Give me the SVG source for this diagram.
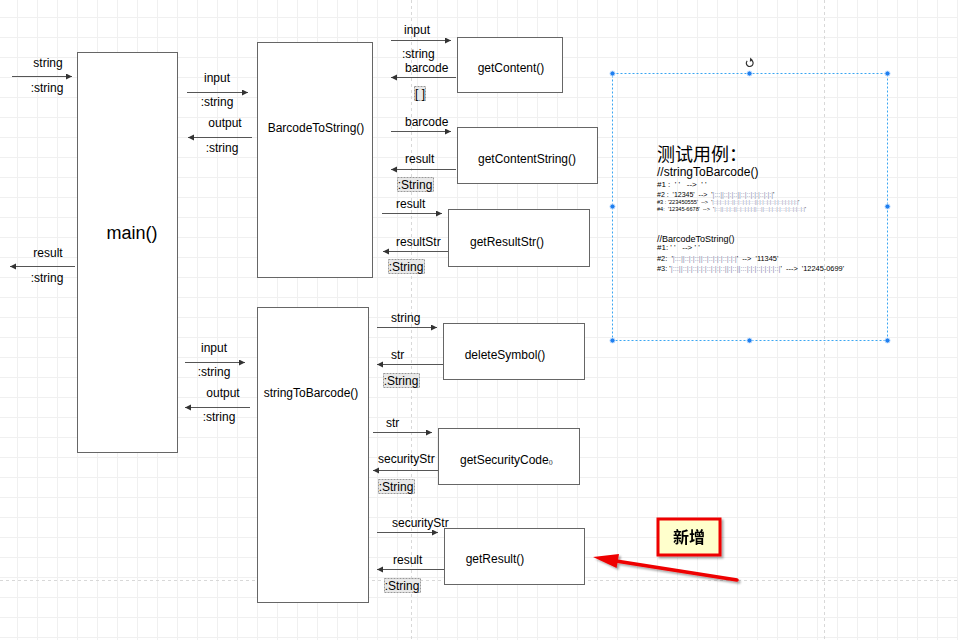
<svg xmlns="http://www.w3.org/2000/svg" width="958" height="640" viewBox="0 0 958 640">
<defs>
<pattern id="grid" patternUnits="userSpaceOnUse" x="17" y="17" width="20" height="20">
<rect width="20" height="20" fill="#ffffff"/>
<path d="M0 0.5H20M0.5 0V20" stroke="#f0f0f0" stroke-width="1" fill="none"/>
</pattern>
<marker id="ah" markerUnits="userSpaceOnUse" markerWidth="8" markerHeight="8" refX="6" refY="3" orient="auto">
<path d="M0 0L6 3L0 6Z" fill="#333"/>
</marker>
<filter id="sh" x="-20%" y="-20%" width="150%" height="160%">
<feGaussianBlur in="SourceAlpha" stdDeviation="1.2"/>
<feOffset dx="2" dy="2" result="b"/>
<feComponentTransfer><feFuncA type="linear" slope="0.35"/></feComponentTransfer>
<feMerge><feMergeNode/><feMergeNode in="SourceGraphic"/></feMerge>
</filter>
</defs>
<style>
text{font-family:"Liberation Sans",Arial,"Noto Sans CJK SC",sans-serif;fill:#000}
.lbl{font-size:12px}
.box{fill:#fff;stroke:#666;stroke-width:1}
.con{stroke:#555;stroke-width:1;fill:none;marker-end:url(#ah)}
.tag{fill:#e9e9e9;stroke:#999;stroke-width:1;stroke-dasharray:2 1}
.pb{stroke:#d8d8d8;stroke-width:1;stroke-dasharray:3 3;fill:none}
.sel{fill:none;stroke:#3aa6f2;stroke-width:1;stroke-dasharray:2 2}
.hd{fill:#1f7ff0;stroke:#cfe6ff;stroke-width:1}
.bc{fill:#8b8fb0}
</style>
<rect width="958" height="640" fill="url(#grid)"/>
<path class="pb" d="M411.5 0V640M824.5 0V640M0 580.5H958"/>

<g id="main">
<rect class="box" x="77.5" y="52.5" width="100" height="400"/>
<text x="132" y="239" font-size="18" text-anchor="middle">main()</text>
</g>
<g id="BarcodeToString">
<rect class="box" x="257.5" y="42.5" width="115" height="235"/>
<text class="lbl" x="316" y="132" text-anchor="middle">BarcodeToString()</text>
</g>
<g id="stringToBarcode">
<rect class="box" x="257.5" y="307.5" width="111" height="295"/>
<text class="lbl" x="311" y="397" text-anchor="middle">stringToBarcode()</text>
</g>
<g id="getContent">
<rect class="box" x="457.5" y="37.5" width="105" height="55"/>
<text class="lbl" x="511" y="72" text-anchor="middle">getContent()</text>
</g>
<g id="getContentString">
<rect class="box" x="457.5" y="127.5" width="140" height="56"/>
<text class="lbl" x="527" y="163" text-anchor="middle">getContentString()</text>
</g>
<g id="getResultStr">
<rect class="box" x="448.5" y="209.5" width="141" height="57"/>
<text class="lbl" x="507" y="246" text-anchor="middle">getResultStr()</text>
</g>
<g id="deleteSymbol">
<rect class="box" x="443.5" y="323.5" width="141" height="56"/>
<text class="lbl" x="505" y="359" text-anchor="middle">deleteSymbol()</text>
</g>
<g id="getSecurityCode">
<rect class="box" x="438.5" y="428.5" width="141" height="56"/>
<text class="lbl" x="460" y="464">getSecurityCode<tspan font-size="6">()</tspan></text>
</g>
<g id="getResult">
<rect class="box" x="444.5" y="528.5" width="140" height="56"/>
<text class="lbl" x="495" y="563" text-anchor="middle">getResult()</text>
</g>

<g id="connectors">
<path class="con" d="M12 76.5H72"/>
<path class="con" d="M75 266.5H10"/>
<path class="con" d="M187 92.5H248"/>
<path class="con" d="M252 137.5H188"/>
<path class="con" d="M185 362.5H245"/>
<path class="con" d="M250 407.5H185"/>
<path class="con" d="M391 40.5H451"/>
<path class="con" d="M456 77.5H391"/>
<path class="con" d="M391 131.5H451"/>
<path class="con" d="M456 169.5H391"/>
<path class="con" d="M382 213.5H442"/>
<path class="con" d="M448 251.5H383"/>
<path class="con" d="M377 327.5H437"/>
<path class="con" d="M443 364.5H377"/>
<path class="con" d="M373 432.5H432"/>
<path class="con" d="M438 470.5H373"/>
<path class="con" d="M377 532.5H438"/>
<path class="con" d="M444 569.5H377"/>
</g>

<g id="labels" class="lbl">
<text x="48" y="67" text-anchor="middle">string</text>
<text x="47" y="92" text-anchor="middle">:string</text>
<text x="48" y="257" text-anchor="middle">result</text>
<text x="47" y="282" text-anchor="middle">:string</text>
<text x="217" y="82" text-anchor="middle">input</text>
<text x="217" y="106" text-anchor="middle">:string</text>
<text x="225" y="127" text-anchor="middle">output</text>
<text x="222" y="152" text-anchor="middle">:string</text>
<text x="214" y="352" text-anchor="middle">input</text>
<text x="214" y="376" text-anchor="middle">:string</text>
<text x="223" y="397" text-anchor="middle">output</text>
<text x="219" y="421" text-anchor="middle">:string</text>
<text x="404" y="34">input</text>
<text x="402" y="58">:string</text>
<text x="405" y="72">barcode</text>
<rect class="tag" x="414.5" y="86.5" width="11" height="14"/>
<text x="420" y="98" text-anchor="middle">[ ]</text>
<text x="405" y="126">barcode</text>
<text x="405" y="163">result</text>
<rect class="tag" x="397.5" y="177.5" width="36" height="14"/>
<text x="415" y="189" text-anchor="middle">:String</text>
<text x="396" y="208">result</text>
<text x="396" y="246">resultStr</text>
<rect class="tag" x="388.5" y="259.5" width="36" height="14"/>
<text x="406" y="271" text-anchor="middle">:String</text>
<text x="391" y="322">string</text>
<text x="391" y="359">str</text>
<rect class="tag" x="383.5" y="373.5" width="36" height="14"/>
<text x="401" y="385" text-anchor="middle">:String</text>
<text x="386" y="427">str</text>
<text x="378" y="463">securityStr</text>
<rect class="tag" x="378.5" y="479.5" width="36" height="14"/>
<text x="396" y="491" text-anchor="middle">:String</text>
<text x="392" y="527">securityStr</text>
<text x="393" y="564">result</text>
<rect class="tag" x="384.5" y="578.5" width="36" height="14"/>
<text x="402" y="590" text-anchor="middle">:String</text>
</g>

<g id="testcases">
<text x="657" y="161" font-size="18">测试用例：</text>
<text x="657" y="176" font-size="12">//stringToBarcode()</text>
<text x="657" y="187" font-size="8" xml:space="preserve">#1 :  ' '   -->  ' '</text>
<text x="657" y="197" font-size="7" xml:space="preserve">#2 :  '12345'  -->  '<tspan class="bc">|:::||::|:|::||::|::|:|:|::|:|:|</tspan>'</text>
<text x="657" y="204" font-size="5.6" xml:space="preserve">#3 : '223450555'  -->  '<tspan class="bc">|::|:|::|:|::||::|::|:|:|:::||:|:|::|:|::|:|::|:|:|:|:|:|</tspan>'</text>
<text x="657" y="211" font-size="5.6" xml:space="preserve">#4:  '12345-6678'  -->  '<tspan class="bc">|:::||::|:|::||::|::|:|:|:||:::||:::|:|::|:|:::|:|::|:|::|:|</tspan>'</text>
<text x="657" y="242" font-size="9">//BarcodeToString()</text>
<text x="657" y="250" font-size="8" xml:space="preserve">#1: ' '   --> ' '</text>
<text x="657" y="261" font-size="7.4" xml:space="preserve">#2:  '<tspan class="bc">|:::||::|:|::||::|::|:|:|::|:|:|</tspan>'  -->  '11345'</text>
<text x="657" y="271" font-size="7.4" xml:space="preserve">#3: '<tspan class="bc">|:::||::|:|::|:|:|::|:|:|::||:|::||:::|:|:|::|:|:|:|::|</tspan>'  --->  '12245-0699'</text>
</g>

<g id="selection">
<rect class="sel" x="612.5" y="73.5" width="275" height="267"/>
<circle class="hd" cx="612.5" cy="73.5" r="2.6"/>
<circle class="hd" cx="749.5" cy="73.5" r="2.6"/>
<circle class="hd" cx="887.5" cy="73.5" r="2.6"/>
<circle class="hd" cx="612.5" cy="206.5" r="2.6"/>
<circle class="hd" cx="887.5" cy="206.5" r="2.6"/>
<circle class="hd" cx="612.5" cy="340.5" r="2.6"/>
<circle class="hd" cx="749.5" cy="340.5" r="2.6"/>
<circle class="hd" cx="887.5" cy="340.5" r="2.6"/>
<path d="M747.2 60.8A3.4 3.4 0 1 0 751.5 60.2" fill="none" stroke="#333" stroke-width="1.2"/>
<path d="M750.2 57.6L753 60.2L749.8 61.8Z" fill="#333"/>
</g>

<g id="callout" filter="url(#sh)">
<path d="M737 580L616 561" stroke="#ee0000" stroke-width="3.5" fill="none" stroke-linecap="round"/>
<path d="M593 557L619 554L616.6 568Z" fill="#ee0000"/>
<rect x="658" y="519" width="62" height="36" fill="#ffffcc" stroke="#ee0000" stroke-width="3"/>
<text x="689" y="543" font-size="16" font-weight="bold" text-anchor="middle" font-family="'Noto Sans CJK SC',sans-serif">新增</text>
</g>
</svg>
